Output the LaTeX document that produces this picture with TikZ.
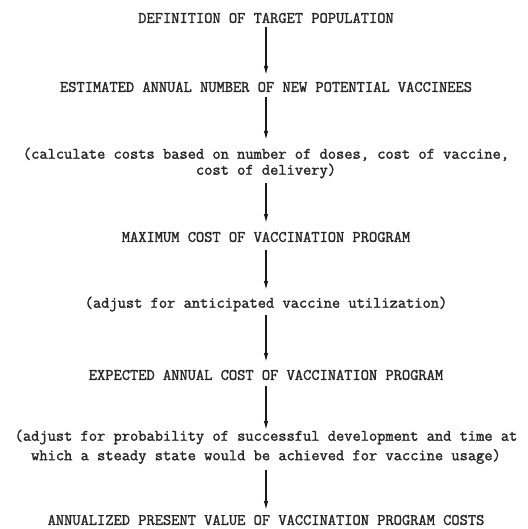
\documentclass[tikz,border=0pt]{standalone}
\usepackage{fontspec}
\usetikzlibrary{arrows.meta}
\newfontfamily\typewriter{Latin Modern Mono}[FakeBold=1.6]
\begin{document}
\begin{tikzpicture}[x=1pt, y=-1pt,
  stage/.style={font=\typewriter\bfseries\fontsize{16}{16}\selectfont,
    text=black!85, inner sep=0pt, align=center},
  flowarrow/.style={draw=black!90, line width=1.2pt,
    -{Latex[length=9pt,width=4.5pt]}}]
  \useasboundingbox (0,0) rectangle (527,529);

  % flow steps, top to bottom
  \node[stage] (target)   at (266,18)  {DEFINITION OF TARGET POPULATION};
  \node[stage] (newvacc)  at (266,87)  {ESTIMATED ANNUAL NUMBER OF NEW POTENTIAL VACCINEES};
  \node[stage] (calc)     at (266,163) {(calculate costs based on number of doses, cost of vaccine,\\cost of delivery)};
  \node[stage] (maxcost)  at (266,237) {MAXIMUM COST OF VACCINATION PROGRAM};
  \node[stage] (utilize)  at (266,304) {(adjust for anticipated vaccine utilization)};
  \node[stage] (expcost)  at (266,375) {EXPECTED ANNUAL COST OF VACCINATION PROGRAM};
  \node[stage] (probab)   at (266,446.75) {(adjust for probability of successful development and time at\\[3.5pt]which a steady state would be achieved for vaccine usage)};
  \node[stage] (present)  at (266,520) {ANNUALIZED PRESENT VALUE OF VACCINATION PROGRAM COSTS};

  % connecting arrows
  \draw[flowarrow] ([yshift=-9pt]target.center)   -- ([yshift=12pt]newvacc.center);
  \draw[flowarrow] ([yshift=-10pt]newvacc.center) -- ([yshift=23pt]calc.center);
  \draw[flowarrow] ([yshift=-20pt]calc.center)    -- ([yshift=14pt]maxcost.center);
  \draw[flowarrow] ([yshift=-13pt]maxcost.center) -- ([yshift=14pt]utilize.center);
  \draw[flowarrow] ([yshift=-11pt]utilize.center) -- ([yshift=13pt]expcost.center);
  \draw[flowarrow] ([yshift=-11pt]expcost.center) -- ([yshift=16.75pt]probab.center);
  \draw[flowarrow] ([yshift=-23.25pt]probab.center) -- ([yshift=10pt]present.center);
\end{tikzpicture}
\end{document}
